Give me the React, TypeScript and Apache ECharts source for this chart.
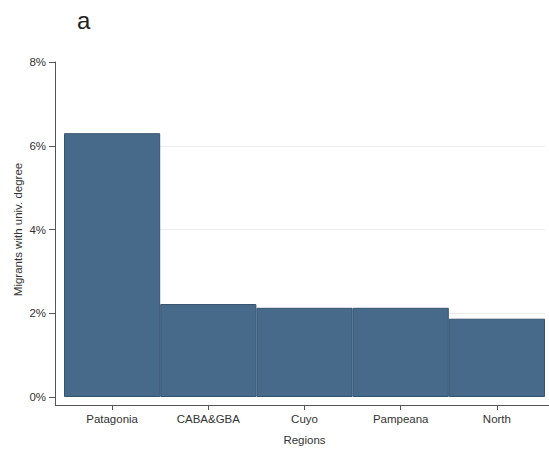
import React, { useEffect, useRef } from "react";
import * as echarts from "echarts";

const categories = ["Patagonia", "CABA&GBA", "Cuyo", "Pampeana", "North"];
const values = [6.3, 2.22, 2.13, 2.13, 1.87];
const yTicks = [0, 2, 4, 6, 8];

export default function App() {
  const ref = useRef<HTMLDivElement>(null);
  useEffect(() => {
    document.body.style.margin = "0";
    const chart = echarts.init(ref.current!, null, { renderer: "svg" });
    const font = "Liberation Sans, Arial, sans-serif";
    const axisColor = "#555";
    const tickPositions = categories.map((_, i) => i + 0.5);
    chart.setOption({
      animation: false,
      backgroundColor: "#ffffff",
      title: {
        text: "a",
        left: 72,
        top: 3,
        textStyle: { fontFamily: font, fontSize: 24, fontWeight: "normal", color: "#222" },
      },
      grid: { left: 64, right: 4, top: 62, bottom: 55, containLabel: false },
      xAxis: [
        {
          type: "category",
          data: categories,
          offset: 8,
          name: "Regions",
          nameLocation: "middle",
          nameGap: 29,
          nameTextStyle: { fontFamily: font, fontSize: 11.5, color: "#333" },
          axisLine: { show: true, onZero: false, lineStyle: { color: axisColor, width: 1 } },
          axisTick: { show: false },
          axisLabel: { fontFamily: font, fontSize: 11.5, color: "#333", margin: 8 },
          splitLine: { show: false },
        },
        {
          type: "value",
          position: "bottom",
          min: 0,
          max: categories.length,
          offset: 8,
          axisLine: { show: false, onZero: false },
          axisTick: { show: true, length: 5, customValues: tickPositions, lineStyle: { color: axisColor } },
          axisLabel: { show: false },
          splitLine: { show: false },
        },
      ],
      yAxis: {
        type: "value",
        min: yTicks[0],
        max: yTicks[yTicks.length - 1],
        interval: 2,
        offset: 9,
        name: "Migrants with univ. degree",
        nameLocation: "middle",
        nameRotate: 90,
        nameGap: 31,
        nameMoveOverlap: false,
        nameTextStyle: { fontFamily: font, fontSize: 11.5, color: "#333" },
        axisLine: { show: true, onZero: false, lineStyle: { color: axisColor, width: 1 } },
        axisTick: { show: true, length: 6, lineStyle: { color: axisColor } },
        axisLabel: { fontFamily: font, fontSize: 11.5, color: "#333", margin: 9, formatter: "{value}%" },
        splitLine: {
          show: true,
          lineStyle: { color: ["transparent", "#ececec", "#ececec", "#ececec", "transparent"], width: 1 },
        },
      },
      graphic: [
        { type: "line", shape: { x1: 55.5, y1: 397, x2: 55.5, y2: 405.5 }, style: { stroke: axisColor, lineWidth: 1 }, silent: true },
        { type: "line", shape: { x1: 55, y1: 405.5, x2: 64, y2: 405.5 }, style: { stroke: axisColor, lineWidth: 1 }, silent: true },
        { type: "line", shape: { x1: 545, y1: 405.5, x2: 549, y2: 405.5 }, style: { stroke: axisColor, lineWidth: 1 }, silent: true },
      ],
      series: [
        {
          type: "bar",
          data: values,
          xAxisIndex: 0,
          barCategoryGap: "0%",
          itemStyle: { color: "#476a8b", borderColor: "#34536f", borderWidth: 1 },
        },
      ],
    });
    return () => chart.dispose();
  }, []);
  return <div ref={ref} style={{ width: 549, height: 452 }} />;
}
